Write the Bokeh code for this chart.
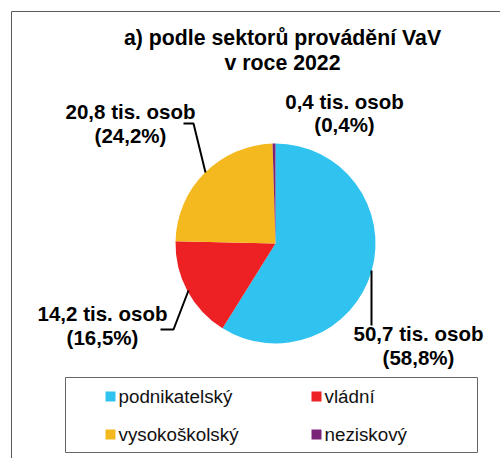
import numpy as np
from bokeh.plotting import figure
from bokeh.models import Range1d, ColumnDataSource
from bokeh.core.properties import value
from bokeh.embed import file_html
from bokeh.resources import INLINE

# ---- data ----
categories = ["podnikatelský", "vládní", "vysokoškolský", "neziskový"]
values = [50.7, 14.2, 20.8, 0.4]      # tis. osob
shares = [58.8, 16.5, 24.2, 0.4]      # %
colors = ["#31C3EF", "#ED2024", "#F5B920", "#7A2479"]
title_lines = ["a) podle sektorů provádění VaV", "v roce 2022"]

# ---- layout (screen pixel coords, y downwards) ----
W, H = 500, 458
def Y(py):
    return H - py

cx, cy, r = 275, 243, 100
label_x = [418, 102, 130, 344]
label_y1 = [333, 313, 111, 101]
label_y2 = [357, 337, 135, 124]
leaders_x = [[371, 371], [160, 173, 188], [183, 193, 205], []]
leaders_y = [[270, 325], [329, 329, 290], [123, 123, 172], []]
leg_sq_x = [110, 316, 110, 316]
leg_sq_y = [396, 396, 434, 434]

FONT = value("Liberation Sans")

p = figure(width=W, height=H, x_range=Range1d(0, W), y_range=Range1d(0, H),
           output_backend="svg", toolbar_location=None,
           x_axis_location=None, y_axis_location=None, min_border=0)
p.grid.visible = False
p.outline_line_color = None
p.background_fill_color = "white"
p.border_fill_color = "white"

# outer chart frame (extends past the canvas on right/bottom)
p.quad(left=[11], right=[560], top=[Y(11)], bottom=[Y(520)],
       fill_color=None, line_color="#5a5a5a", line_width=1)

# pie
vals = np.array(values)
frac = np.cumsum(np.concatenate([[0], vals])) / vals.sum()
start = np.pi / 2 - frac[:-1] * 2 * np.pi
end = np.pi / 2 - frac[1:] * 2 * np.pi
src = ColumnDataSource(dict(start=start, end=end, color=colors, cat=categories))
p.wedge(x=cx, y=Y(cy), radius=r, start_angle="start", end_angle="end",
        direction="clock", fill_color="color", line_color=None, source=src)

# leader lines
lx = [xs for xs in leaders_x if xs]
ly = [[Y(v) for v in ys] for ys in leaders_y if ys]
p.multi_line(xs=lx, ys=ly, line_color="black", line_width=2)

# data labels
l1 = [f"{v:.1f}".replace(".", ",") + " tis. osob" for v in values]
l2 = ["(" + f"{s:.1f}".replace(".", ",") + "%)" for s in shares]
p.text(x=label_x, y=[Y(v) for v in label_y1], text=l1, text_font=FONT,
       text_font_style="bold", text_font_size="20.5px", text_align="center",
       text_baseline="middle", text_color="black")
p.text(x=label_x, y=[Y(v) for v in label_y2], text=l2, text_font=FONT,
       text_font_style="bold", text_font_size="20.5px", text_align="center",
       text_baseline="middle", text_color="black")

# title
p.text(x=[282, 282], y=[Y(37), Y(62)], text=title_lines, text_font=FONT,
       text_font_style="bold", text_font_size="21.3px", text_align="center",
       text_baseline="middle", text_color="black")

# legend box
p.quad(left=[65], right=[477], top=[Y(377)], bottom=[Y(452)],
       fill_color=None, line_color="#666666", line_width=1)
p.rect(x=leg_sq_x, y=[Y(v) for v in leg_sq_y], width=10, height=10,
       fill_color=colors, line_color=None)
p.text(x=[v + 8 for v in leg_sq_x], y=[Y(v) for v in leg_sq_y], text=categories,
       text_font=FONT, text_font_size="18.8px", text_align="left",
       text_baseline="middle", text_color="#111111")

open("out.html", "w").write(file_html(p, INLINE))
